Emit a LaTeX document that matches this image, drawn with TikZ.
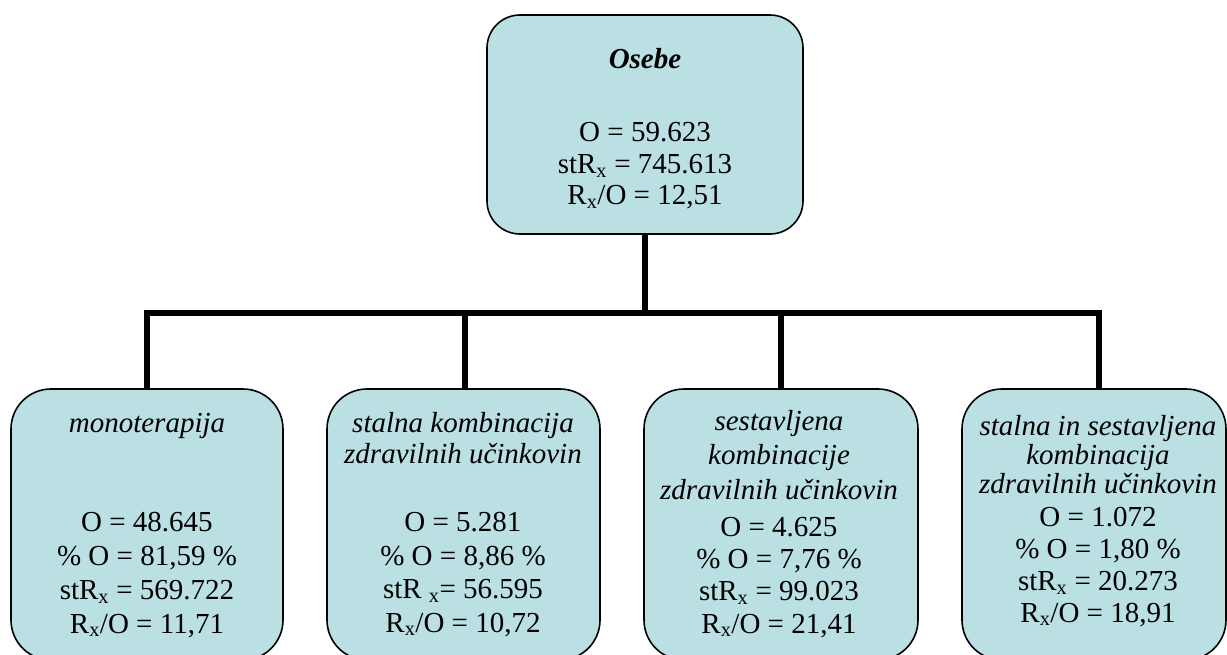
\documentclass[tikz,border=0pt]{standalone}
\usepackage{fontspec}
\setmainfont{Liberation Serif}
\definecolor{boxfill}{RGB}{186,224,228}
\begin{document}
\begin{tikzpicture}[x=1pt,y=-1pt,
  box/.style={draw=black, line width=1.6pt, fill=boxfill, rounded corners=#1, inner sep=0pt},
  conn/.style={draw=black, line width=6pt, line join=miter},
  txt/.style={anchor=base, align=center, inner sep=0pt, font=\fontsize{29}{#1}\selectfont},
  ttl/.style={txt=#1, font=\fontsize{29}{#1}\selectfont\itshape}]
\useasboundingbox (0,0) rectangle (1227,655);
\clip (0,0) rectangle (1227,655);

% boxes
\node[box=33pt, minimum width=316pt, minimum height=219pt] (top) at (645,124.5) {};
\node[box=40pt, minimum width=272pt, minimum height=271pt] (b1) at (147,524.5) {};
\node[box=40pt, minimum width=273pt, minimum height=271pt] (b2) at (463.5,524.5) {};
\node[box=40pt, minimum width=274pt, minimum height=271pt] (b3) at (781,524.5) {};
\node[box=40pt, minimum width=264pt, minimum height=271pt] (b4) at (1094,524.5) {};

% connectors
\coordinate (bar) at (645,313);
\coordinate (b4in) at ([xshift=5pt]b4.north);
\coordinate (b2in) at ([xshift=1.5pt]b2.north);
\draw[conn] (top.south) -- (bar);
\draw[conn] (b1.north) |- (bar) -| (b4in);
\draw[conn] (b2in) -- (b2in |- bar);
\draw[conn] (b3.north) -- (b3.north |- bar);

% texts: each node is placed at the baseline of its last line
\node[txt=31.5, font=\fontsize{29}{31.5}\selectfont\bfseries\itshape] (t0) at (645,69) {Osebe};
\node[txt=31.5] (t1) at (645,205) {O = 59.623\\stR\textsubscript{x} = 745.613\\R\textsubscript{x}/O = 12,51};

% monoterapija
\node[ttl=33.5] (h1) at (147,432) {monoterapija};
\node[txt=33.7] (d1) at (147,633) {O = 48.645\\\% O = 81,59 \%\\stR\textsubscript{x} = 569.722\\R\textsubscript{x}/O = 11,71};

% stalna kombinacija
\node[ttl=31] (h2) at (463,463) {stalna kombinacija\\zdravilnih učinkovin};
\node[txt=33.4] (d2) at (463,632) {O = 5.281\\\% O = 8,86 \%\\stR \textsubscript{x}= 56.595\\R\textsubscript{x}/O = 10,72};

% sestavljena kombinacija
\node[ttl=34.5] (h3) at (779,499) {sestavljena\\kombinacije\\zdravilnih učinkovin};
\node[txt=32.3] (d3) at (779,633) {O = 4.625\\\% O = 7,76 \%\\stR\textsubscript{x} = 99.023\\R\textsubscript{x}/O = 21,41};

% stalna in sestavljena kombinacija
\node[ttl=29] (h4) at (1098,493) {stalna in sestavljena\\kombinacija\\zdravilnih učinkovin};
\node[txt=31.7] (d4) at (1098,622) {O = 1.072\\\% O = 1,80 \%\\stR\textsubscript{x} = 20.273\\R\textsubscript{x}/O = 18,91};
\end{tikzpicture}
\end{document}
